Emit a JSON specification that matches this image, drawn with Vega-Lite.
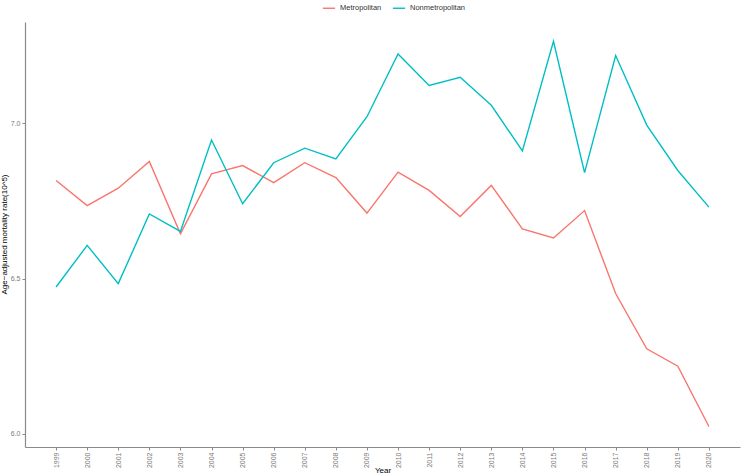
{
  "$schema": "https://vega.github.io/schema/vega-lite/v6.json",
  "width": 715,
  "height": 425,
  "autosize": {"type": "none"},
  "padding": {"left": 25, "top": 22, "right": 4, "bottom": 29},
  "background": "white",
  "config": {
    "view": {"stroke": null},
    "font": "Liberation Sans",
    "axis": {"grid": false, "domainColor": "#8a8a8a", "domainWidth": 1.2, "tickColor": "#8a8a8a", "tickSize": 3, "labelColor": "#7a7a7a", "labelFontSize": 7, "titleFontSize": 8.5, "titleFontWeight": "normal", "titleColor": "#000000"}
  },
  "data": {"values": [
    {"Year": "1999", "Group": "Metropolitan", "Rate": 6.816},
    {"Year": "2000", "Group": "Metropolitan", "Rate": 6.735},
    {"Year": "2001", "Group": "Metropolitan", "Rate": 6.791},
    {"Year": "2002", "Group": "Metropolitan", "Rate": 6.877},
    {"Year": "2003", "Group": "Metropolitan", "Rate": 6.644},
    {"Year": "2004", "Group": "Metropolitan", "Rate": 6.837},
    {"Year": "2005", "Group": "Metropolitan", "Rate": 6.864},
    {"Year": "2006", "Group": "Metropolitan", "Rate": 6.809},
    {"Year": "2007", "Group": "Metropolitan", "Rate": 6.873},
    {"Year": "2008", "Group": "Metropolitan", "Rate": 6.825},
    {"Year": "2009", "Group": "Metropolitan", "Rate": 6.711},
    {"Year": "2010", "Group": "Metropolitan", "Rate": 6.843},
    {"Year": "2011", "Group": "Metropolitan", "Rate": 6.784},
    {"Year": "2012", "Group": "Metropolitan", "Rate": 6.700},
    {"Year": "2013", "Group": "Metropolitan", "Rate": 6.800},
    {"Year": "2014", "Group": "Metropolitan", "Rate": 6.660},
    {"Year": "2015", "Group": "Metropolitan", "Rate": 6.631},
    {"Year": "2016", "Group": "Metropolitan", "Rate": 6.719},
    {"Year": "2017", "Group": "Metropolitan", "Rate": 6.452},
    {"Year": "2018", "Group": "Metropolitan", "Rate": 6.274},
    {"Year": "2019", "Group": "Metropolitan", "Rate": 6.218},
    {"Year": "2020", "Group": "Metropolitan", "Rate": 6.024},
    {"Year": "1999", "Group": "Nonmetropolitan", "Rate": 6.473},
    {"Year": "2000", "Group": "Nonmetropolitan", "Rate": 6.607},
    {"Year": "2001", "Group": "Nonmetropolitan", "Rate": 6.484},
    {"Year": "2002", "Group": "Nonmetropolitan", "Rate": 6.708},
    {"Year": "2003", "Group": "Nonmetropolitan", "Rate": 6.652},
    {"Year": "2004", "Group": "Nonmetropolitan", "Rate": 6.946},
    {"Year": "2005", "Group": "Nonmetropolitan", "Rate": 6.741},
    {"Year": "2006", "Group": "Nonmetropolitan", "Rate": 6.873},
    {"Year": "2007", "Group": "Nonmetropolitan", "Rate": 6.920},
    {"Year": "2008", "Group": "Nonmetropolitan", "Rate": 6.885},
    {"Year": "2009", "Group": "Nonmetropolitan", "Rate": 7.021},
    {"Year": "2010", "Group": "Nonmetropolitan", "Rate": 7.223},
    {"Year": "2011", "Group": "Nonmetropolitan", "Rate": 7.122},
    {"Year": "2012", "Group": "Nonmetropolitan", "Rate": 7.148},
    {"Year": "2013", "Group": "Nonmetropolitan", "Rate": 7.058},
    {"Year": "2014", "Group": "Nonmetropolitan", "Rate": 6.911},
    {"Year": "2015", "Group": "Nonmetropolitan", "Rate": 7.264},
    {"Year": "2016", "Group": "Nonmetropolitan", "Rate": 6.841},
    {"Year": "2017", "Group": "Nonmetropolitan", "Rate": 7.218},
    {"Year": "2018", "Group": "Nonmetropolitan", "Rate": 6.994},
    {"Year": "2019", "Group": "Nonmetropolitan", "Rate": 6.848},
    {"Year": "2020", "Group": "Nonmetropolitan", "Rate": 6.730}
  ]},
  "mark": {"type": "line", "strokeWidth": 1.4},
  "encoding": {
    "x": {"field": "Year", "type": "ordinal", "scale": {"type": "point", "padding": 1.1},
      "axis": {"title": "Year", "labelAngle": -90, "labelPadding": 2, "titleAnchor": "middle", "titleBaseline": "alphabetic", "titleY": 25, "titleFontSize": 8}},
    "y": {"field": "Rate", "type": "quantitative", "scale": {"domain": [5.958, 7.326], "nice": false, "zero": false},
      "axis": {"title": "Age\u2212adjusted mortality rate(10^5)", "values": [6.0, 6.5, 7.0], "format": ".1f", "labelPadding": 2, "titleX": -17, "titleY": 212, "titleAnchor": "middle", "titleAlign": "center", "titleBaseline": "bottom", "titleFontSize": 8}},
    "color": {"field": "Group", "type": "nominal",
      "scale": {"domain": ["Metropolitan", "Nonmetropolitan"], "range": ["#F8766D", "#00BFC4"]},
      "legend": {"title": null, "orient": "none", "direction": "horizontal", "legendX": 297, "legendY": -21, "symbolType": "stroke", "symbolSize": 150, "symbolStrokeWidth": 1.4, "labelFontSize": 7.5, "labelColor": "#333333", "columnPadding": 8}}
  }
}
